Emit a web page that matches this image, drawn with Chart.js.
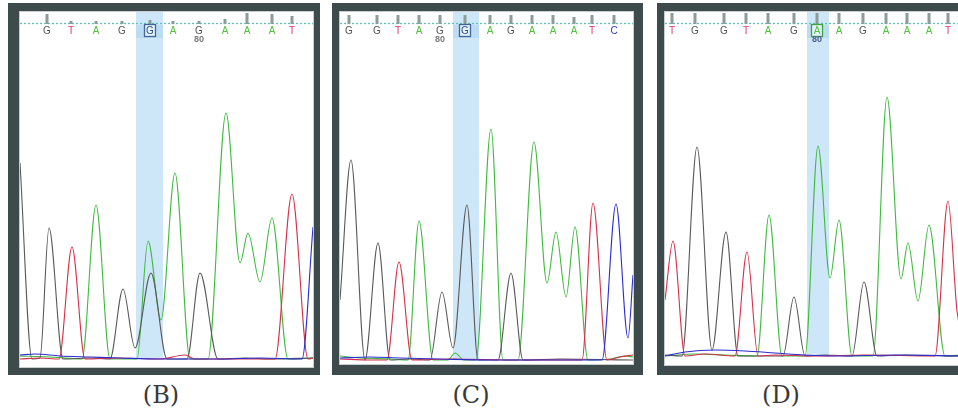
<!DOCTYPE html>
<html>
<head>
<title>Sequencing chromatograms</title>
<script src="https://cdn.jsdelivr.net/npm/chart.js"></script>
<style>
  body { margin: 0; background: #fff; width: 958px; height: 414px; overflow: hidden; position: relative; }
  .frame { position: absolute; background: #3e4b4d; }
  .frame canvas { position: absolute; background: #fff; box-shadow: 0 0 0 1px #c8cdcd; }
  .cap { position: absolute; top: 381px; font-family: 'DejaVu Serif', 'Liberation Serif', serif; font-size: 24px; color: #3a3a3a; transform: translateX(-50%); }
</style>
</head>
<body>
<div class="frame" id="fB"><canvas id="cB"></canvas></div>
<div class="frame" id="fC"><canvas id="cC"></canvas></div>
<div class="frame" id="fD"><canvas id="cD"></canvas></div>
<div class="cap" style="left:161px">(B)</div>
<div class="cap" style="left:471px">(C)</div>
<div class="cap" style="left:781px">(D)</div>

<script>
// ---- panel B : trace points [scan, signal] ----
var B_G = [[0,196],[12,0],[20,1],[29,131],[43,0],[70,1],[90,0],[103,70],[115,11],[131,86],[147,0],[167,0],[180,86],[198,0],[225,1],[250,0],[293,1]];
var B_A = [[0,3],[30,2],[62,0],[76,154],[90,0],[117,0],[128,118],[141,39],[155,186],[170,0],[188,0],[206,246],[220,96],[228,126],[240,77],[252,141],[268,0],[293,1]];
var B_T = [[0,0],[20,1],[39,0],[52,112],[65,0],[100,1],[140,0],[165,4],[175,0],[255,0],[272,165],[288,0],[293,1]];
var B_C = [[0,4],[15,5],[40,3],[70,2],[100,1],[140,0],[200,0],[240,1],[282,0],[293,132]];
var B_bases = ['G','T','A','G','G','A','G','A','A','A','T'];
var B_pos   = [27,51,76,102,130,153,179,205,227,252,272];
var B_qual  = [10,3,3,3,4,3,3,5,11,10,8];
var B_band  = [116,143];

// ---- panel C ----
var C_G = [[0,60],[11,200],[25,0],[38,117],[50,0],[70,1],[90,0],[102,68],[113,12],[127,155],[138,0],[158,0],[171,87],[183,0],[220,1],[293,0]];
var C_A = [[0,4],[20,2],[50,1],[68,0],[79,139],[93,0],[108,0],[115,7],[124,0],[136,0],[151,231],[163,0],[178,0],[194,218],[207,77],[216,128],[226,63],[235,133],[248,0],[270,1],[285,4],[293,3]];
var C_T = [[0,1],[30,0],[47,0],[59,98],[72,0],[110,1],[180,0],[242,0],[253,157],[267,0],[280,3],[293,5]];
var C_C = [[0,2],[30,3],[60,2],[100,1],[150,0],[262,0],[276,156],[288,22],[293,85]];
var C_bases = ['G','G','T','A','G','G','A','G','A','A','A','T','C'];
var C_pos   = [9,37,58,79,100,125,150,171,192,213,234,252,274];
var C_qual  = [9,9,9,9,9,9,9,9,9,9,7,9,9];
var C_band  = [113,139];

// ---- panel D ----
var D_G = [[0,1],[17,0],[32,209],[47,6],[61,124],[73,0],[95,0],[118,0],[129,59],[140,0],[160,1],[187,0],[199,74],[212,0],[240,1],[297,0]];
var D_A = [[0,0],[30,2],[60,1],[92,0],[104,141],[117,0],[140,0],[153,210],[165,78],[174,136],[187,0],[208,0],[222,259],[236,77],[243,113],[253,55],[264,131],[280,0],[297,1]];
var D_T = [[0,56],[8,115],[20,0],[40,2],[70,0],[82,104],[93,0],[110,1],[150,0],[200,1],[270,0],[283,155],[292,45],[297,20]];
var D_C = [[0,0],[20,4],[50,6],[80,5],[110,3],[140,1],[170,0],[230,1],[297,0]];
var D_bases = ['T','G','G','T','A','G','A','A','G','A','A','A','T'];
var D_pos   = [7,30,59,81,103,129,152,174,198,221,242,264,283];
var D_qual  = [11,11,11,11,11,11,11,11,11,11,11,11,11];
var D_band  = [142,164];

var baseColor = { G: '#555555', A: '#4fc03a', T: '#e2336a', C: '#3434c8' };
var traceColor = { G: '#595959', A: '#3fba3f', T: '#d6304a', C: '#2c2cd0' };

// draws the highlighted column and the base-call strip along the top
var callStrip = {
  id: 'callStrip',
  beforeDatasetsDraw: function(chart, args, o) {
    var ctx = chart.ctx, x = chart.scales.x, y = chart.scales.y, ca = chart.chartArea;
    var x0 = x.getPixelForValue(o.band[0]), x1 = x.getPixelForValue(o.band[1]);
    ctx.save();
    ctx.fillStyle = '#cde6f8';
    ctx.fillRect(x0, ca.top, x1 - x0, y.getPixelForValue(0) - ca.top);
    ctx.fillStyle = '#bcdcf3';
    ctx.fillRect(x0, 13, x1 - x0, 13);
    ctx.restore();
  },
  afterDraw: function(chart, args, o) {
    var ctx = chart.ctx, x = chart.scales.x, ca = chart.chartArea;
    ctx.save();
    // dotted guide line
    ctx.strokeStyle = '#5ec3b6';
    ctx.lineWidth = 1.3;
    ctx.setLineDash([2, 2]);
    ctx.beginPath();
    ctx.moveTo(ca.left, 11.5);
    ctx.lineTo(ca.right, 11.5);
    ctx.stroke();
    ctx.setLineDash([]);
    ctx.textAlign = 'center';
    ctx.textBaseline = 'middle';
    for (var i = 0; i < o.bases.length; i++) {
      var px = Math.round(x.getPixelForValue(o.pos[i]));
      ctx.fillStyle = '#8c9c97';
      ctx.fillRect(px - 1.5, 12 - o.qual[i], 3, o.qual[i]);
      var b = o.bases[i];
      if (i === o.called) {
        ctx.fillStyle = '#e6f2fb';
        ctx.fillRect(px - 5.5, 12.5, 11, 12);
        ctx.strokeStyle = b === 'A' ? '#3aa53a' : '#3f6699';
        ctx.strokeRect(px - 5.5, 12.5, 11, 12);
      }
      ctx.font = '10px "Liberation Sans", Arial, sans-serif';
      ctx.fillStyle = (i === o.called && b === 'G') ? '#2c4d80' : baseColor[b];
      ctx.fillText(b, px, 19);
      if (i === o.mark) {
        ctx.font = 'bold 9px "Liberation Sans", Arial, sans-serif';
        ctx.fillStyle = o.called === o.mark ? '#4c5c8a' : '#7a7a7a';
        ctx.fillText('80', px, 28);
      }
    }
    ctx.restore();
  }
};

function trace(pts, b) {
  return {
    data: pts.map(function(p) { return { x: p[0], y: p[1] }; }),
    borderColor: traceColor[b],
    borderWidth: 1.1,
    pointRadius: 0,
    fill: false,
    cubicInterpolationMode: 'monotone'
  };
}

function panel(id, frameBox, border, w, h, ymin, series, strip) {
  var f = document.getElementById('f' + id);
  f.style.left = frameBox[0] + 'px';
  f.style.top = frameBox[1] + 'px';
  f.style.width = frameBox[2] + 'px';
  f.style.height = frameBox[3] + 'px';
  var cv = document.getElementById('c' + id);
  cv.width = w; cv.height = h;
  cv.style.left = border[0] + 'px';
  cv.style.top = border[1] + 'px';
  cv.style.width = w + 'px';
  cv.style.height = h + 'px';
  new Chart(cv.getContext('2d'), {
    type: 'line',
    data: { datasets: [trace(series.C, 'C'), trace(series.T, 'T'), trace(series.G, 'G'), trace(series.A, 'A')] },
    options: {
      responsive: false,
      animation: false,
      layout: { padding: 0 },
      scales: {
        x: { type: 'linear', display: false, min: 0, max: w },
        y: { display: false, min: ymin, max: h + ymin }
      },
      plugins: { legend: { display: false }, tooltip: { enabled: false }, callStrip: strip }
    },
    plugins: [callStrip]
  });
}

panel('B', [8, 3, 312, 372], [12, 9], 293, 355, -8,
  { G: B_G, A: B_A, T: B_T, C: B_C },
  { bases: B_bases, pos: B_pos, qual: B_qual, band: B_band, called: 4, mark: 6 });
panel('C', [332, 3, 311, 372], [8, 9], 293, 352, -4,
  { G: C_G, A: C_A, T: C_T, C: C_C },
  { bases: C_bases, pos: C_pos, qual: C_qual, band: C_band, called: 5, mark: 4 });
panel('D', [657, 3, 320, 372], [8, 9], 297, 353, -9,
  { G: D_G, A: D_A, T: D_T, C: D_C },
  { bases: D_bases, pos: D_pos, qual: D_qual, band: D_band, called: 6, mark: 6 });
</script>
</body>
</html>
